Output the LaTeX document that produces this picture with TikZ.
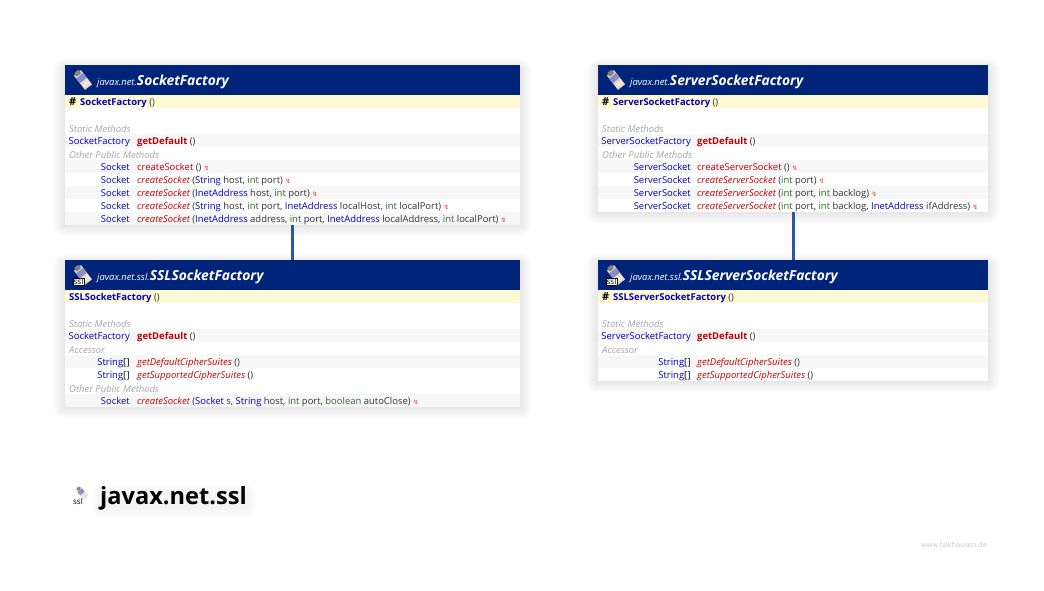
\documentclass[tikz,border=0pt]{standalone}
\usepackage{fontspec}
\setmainfont{Open Sans}
\newfontfamily\symfont{DejaVu Sans}
\definecolor{headblue}{HTML}{00247A}
\definecolor{linkblue}{HTML}{2B56A3}
\definecolor{typeblue}{HTML}{0000BB}
\definecolor{methred}{HTML}{C00000}
\definecolor{primgreen}{HTML}{2F6B2F}
\definecolor{ctorbg}{HTML}{FFF9D5}
\definecolor{stripe}{HTML}{F7F7F7}
\newcommand{\ty}[1]{\textcolor{typeblue}{#1}}
\newcommand{\pr}[1]{\textcolor{primgreen}{#1}}
\newcommand{\st}[1]{\textcolor{methred}{\bfseries #1}}
\newcommand{\me}[1]{\textcolor{methred}{#1}}
\newcommand{\ab}[1]{\textcolor{methred}{\itshape #1}}
\newcommand{\ex}{ {\symfont\fontsize{6.5}{6.5}\selectfont\textcolor{red!80}{↯}}}
\newcommand{\prot}{\makebox[11pt][l]{\textcolor{black}{\fontsize{11}{11}\selectfont\bfseries\#}}}
\newcommand{\arr}{\textcolor{black}{[\kern0.4pt]}}
\newcommand{\pk}[1]{{\fontsize{9.4}{10}\selectfont\mdseries #1}}
\tikzset{classbox/.style={draw=none,fill=white,inner sep=0,minimum width=#1},
         headbar/.style={fill=headblue,inner sep=0,minimum width=#1,minimum height=30pt},
         ctorbar/.style={fill=ctorbg,inner sep=0,minimum width=#1,minimum height=13pt},
         title/.style={anchor=base west,inner sep=0,text=white,font=\fontsize{13.8}{14}\selectfont\bfseries\itshape},
         member/.style={anchor=base west,inner sep=0,text=black!80,font=\fontsize{9.45}{11}\selectfont},
         rettype/.style={anchor=base east,inner sep=0,text=typeblue,font=\fontsize{9.45}{11}\selectfont},
         section/.style={anchor=base west,inner sep=0,text=black!35,font=\fontsize{9.45}{11}\selectfont\itshape},
         link/.style={draw=linkblue,line width=3pt},
         jar/.pic={
           \begin{scope}[rotate=38]
           \fill[black!15] (-4.5,-9) rectangle (4.5,9);
           \fill[black!50,rounded corners=1pt] (-3,-11) rectangle (3,-6.5);
           \fill[blue!45!black!45] (-4.5,-5.5) rectangle (4.5,0.5);
           \fill[orange!20] (-3.5,3) rectangle (3.5,7);
           \end{scope}
         },
         ssltag/.style={fill=white,draw=black,line width=0.5pt,text=black,inner sep=0.5pt,font=\fontsize{8}{8}\selectfont}}

\begin{document}
\begin{tikzpicture}[x=1pt,y=-1pt]
\useasboundingbox (0,0) rectangle (1044,590);

%%soft shadows first
\foreach \bx/\by/\bz in {65/65/225,65/260/407,598/65/212,598/260/381} {
  \pgfmathsetmacro{\rx}{\bx==65 ? 520 : 988}
  \foreach \s in {1,2,...,12} {\fill[black,opacity=0.009,rounded corners=\s pt] (\bx-\s,\by-\s+5) rectangle (\rx+\s,\bz+\s);}
}
\foreach \s in {1,2,...,12} {\fill[black,opacity=0.005,rounded corners=\s pt] (102-\s,491-\s+4) rectangle (246+\s,503+\s+4);}

%%class frames
\node[classbox=455pt,minimum height=160pt] (sf) at (292.5,145) {};
\node[classbox=455pt,minimum height=147pt] (sslsf) at (292.5,333.5) {};
\node[classbox=390pt,minimum height=147pt] (ssf) at (793,138.5) {};
\node[classbox=390pt,minimum height=121pt] (sslssf) at (793,320.5) {};
\draw[link] (sf) -- (sslsf);
\draw[link] (ssf) -- (sslssf);

%%SocketFactory
\node[headbar=455pt] (sfhead) at (292.5,80) {};
\node[ctorbar=455pt] (sfctor) at (292.5,101.5) {};
\pic at (83,80) {jar};
\node[title] (sftitle) at (97,85) {\pk{javax.net.}SocketFactory};
\node[member] (sfnew) at (69,105) {\prot\ty{\bfseries SocketFactory} ()};
\node[section] (sfstatic) at (69,132) {Static Methods};
\fill[stripe] (65,134) rectangle (520,147);
\node[rettype] (sfret) at (130,144) {SocketFactory};
\node[member] (sfget) at (137,144) {\st{getDefault} ()};
\node[section] (sfother) at (69,158) {Other Public Methods};
\foreach \y/\sig in {170/{\me{createSocket} ()\ex},
  183/{\ab{createSocket} (\ty{String} host, \pr{int} port)\ex},
  196/{\ab{createSocket} (\ty{InetAddress} host, \pr{int} port)\ex},
  209/{\ab{createSocket} (\ty{String} host, \pr{int} port, \ty{InetAddress} localHost, \pr{int} localPort)\ex},
  222/{\ab{createSocket} (\ty{InetAddress} address, \pr{int} port, \ty{InetAddress} localAddress, \pr{int} localPort)\ex}} {
  \pgfmathparse{int(mod(\y-170,26))==0 ? 1 : 0}
  \ifnum\pgfmathresult=1 \fill[stripe] (65,\y-10) rectangle (520,\y+3);\fi
  \node[rettype] (sfret\y) at (130,\y) {Socket};
  \node[member] (sfm\y) at (137,\y) {\sig};
}

%%SSLSocketFactory
\node[headbar=455pt] (sslsfhead) at (292.5,275) {};
\node[ctorbar=455pt] (sslsfctor) at (292.5,296.5) {};
\pic at (83,275) {jar};
\node[ssltag] (sslsftag) at (78.5,281.5) {ssl};
\node[title] (sslsftitle) at (97,280) {\pk{javax.net.ssl.}SSLSocketFactory};
\node[member] (sslsfnew) at (69,300) {\ty{\bfseries SSLSocketFactory} ()};
\node[section] (sslsfstatic) at (69,327) {Static Methods};
\fill[stripe] (65,329) rectangle (520,342);
\node[rettype] (sslsfret) at (130,339) {SocketFactory};
\node[member] (sslsfget) at (137,339) {\st{getDefault} ()};
\node[section] (sslsfacc) at (69,353) {Accessor};
\fill[stripe] (65,355) rectangle (520,368);
\node[rettype] (sslsfret365) at (130,365) {String\arr};
\node[member] (sslsfm365) at (137,365) {\ab{getDefaultCipherSuites} ()};
\node[rettype] (sslsfret378) at (130,378) {String\arr};
\node[member] (sslsfm378) at (137,378) {\ab{getSupportedCipherSuites} ()};
\node[section] (sslsfother) at (69,392) {Other Public Methods};
\fill[stripe] (65,394) rectangle (520,407);
\node[rettype] (sslsfret404) at (130,404) {Socket};
\node[member] (sslsfm404) at (137,404) {\ab{createSocket} (\ty{Socket} s, \ty{String} host, \pr{int} port, \pr{boolean} autoClose)\ex};

%%ServerSocketFactory
\node[headbar=390pt] (ssfhead) at (793,80) {};
\node[ctorbar=390pt] (ssfctor) at (793,101.5) {};
\pic at (616,80) {jar};
\node[title] (ssftitle) at (630,85) {\pk{javax.net.}ServerSocketFactory};
\node[member] (ssfnew) at (602,105) {\prot\ty{\bfseries ServerSocketFactory} ()};
\node[section] (ssfstatic) at (602,132) {Static Methods};
\fill[stripe] (598,134) rectangle (988,147);
\node[rettype] (ssfret) at (691,144) {ServerSocketFactory};
\node[member] (ssfget) at (697,144) {\st{getDefault} ()};
\node[section] (ssfother) at (602,158) {Other Public Methods};
\foreach \y/\sig in {170/{\me{createServerSocket} ()\ex},
  183/{\ab{createServerSocket} (\pr{int} port)\ex},
  196/{\ab{createServerSocket} (\pr{int} port, \pr{int} backlog)\ex},
  209/{\ab{createServerSocket} (\pr{int} port, \pr{int} backlog, \ty{InetAddress} ifAddress)\ex}} {
  \pgfmathparse{int(mod(\y-170,26))==0 ? 1 : 0}
  \ifnum\pgfmathresult=1 \fill[stripe] (598,\y-10) rectangle (988,\y+3);\fi
  \node[rettype] (ssfret\y) at (691,\y) {ServerSocket};
  \node[member] (ssfm\y) at (697,\y) {\sig};
}

%%SSLServerSocketFactory
\node[headbar=390pt] (sslssfhead) at (793,275) {};
\node[ctorbar=390pt] (sslssfctor) at (793,296.5) {};
\pic at (616,275) {jar};
\node[ssltag] (sslssftag) at (611.5,281.5) {ssl};
\node[title] (sslssftitle) at (630,280) {\pk{javax.net.ssl.}SSLServerSocketFactory};
\node[member] (sslssfnew) at (602,300) {\prot\ty{\bfseries SSLServerSocketFactory} ()};
\node[section] (sslssfstatic) at (602,327) {Static Methods};
\fill[stripe] (598,329) rectangle (988,342);
\node[rettype] (sslssfret) at (691,339) {ServerSocketFactory};
\node[member] (sslssfget) at (697,339) {\st{getDefault} ()};
\node[section] (sslssfacc) at (602,353) {Accessor};
\fill[stripe] (598,355) rectangle (988,368);
\node[rettype] (sslssfret365) at (691,365) {String\arr};
\node[member] (sslssfm365) at (697,365) {\ab{getDefaultCipherSuites} ()};
\node[rettype] (sslssfret378) at (691,378) {String\arr};
\node[member] (sslssfm378) at (697,378) {\ab{getSupportedCipherSuites} ()};

%%package name
\pic[scale=0.65] at (82,493) {jar};
\node[ssltag,draw=none,fill=white] (pkgtag) at (78,501) {ssl};
\node[anchor=base west,inner sep=0,font=\fontsize{23.6}{24}\selectfont\bfseries] (pkg) at (100,504) {javax.net.ssl};
\node[anchor=base east,inner sep=0,text=black!22,font=\fontsize{7.2}{8}\selectfont] (credit) at (987,547) {www.falkhausen.de};
\end{tikzpicture}
\end{document}
